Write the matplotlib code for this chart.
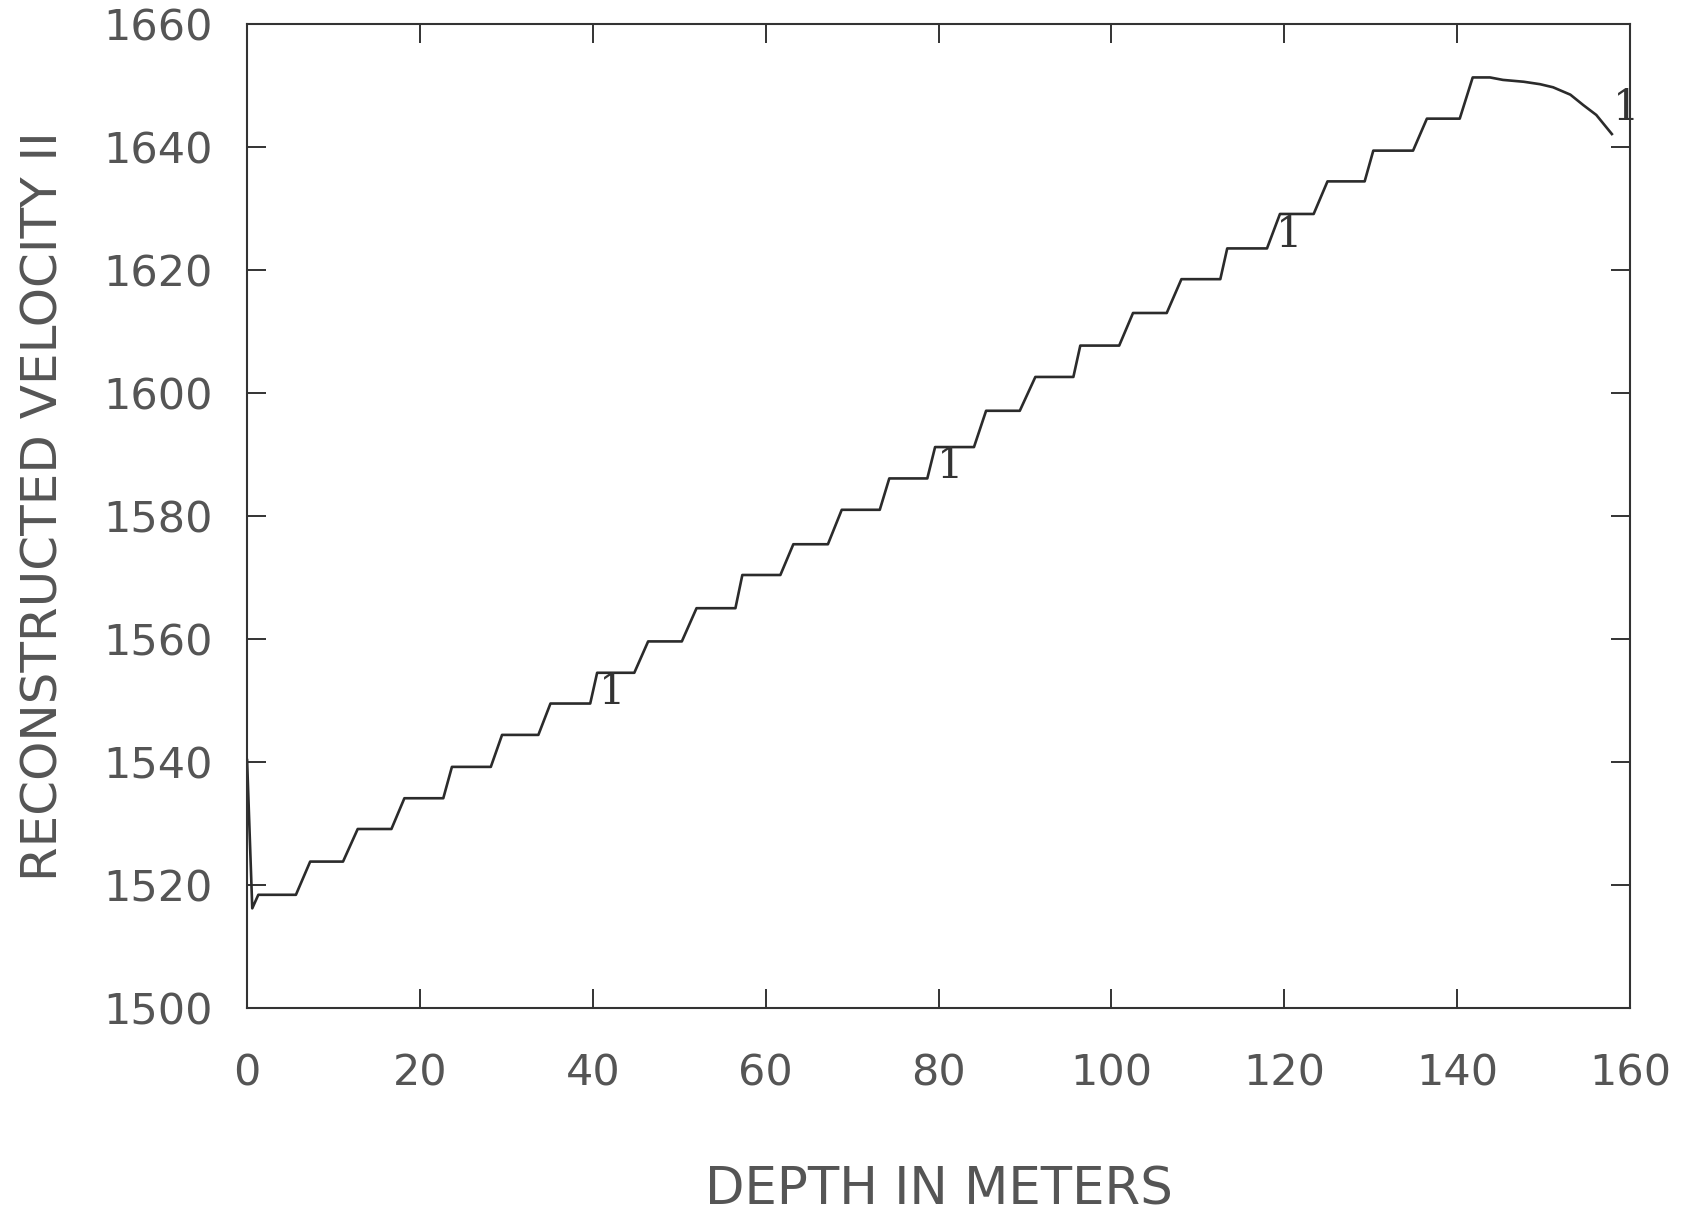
import matplotlib
matplotlib.use('Agg')
import matplotlib.pyplot as plt

# Datos (profundidad en m, velocidad en m/s)
spike_x = [0.0, 0.6, 1.3]
spike_y = [1540.3, 1516.2, 1518.4]

levels = [1518.4, 1523.8, 1529.1, 1534.1, 1539.2, 1544.4, 1549.5, 1554.5,
          1559.6, 1565.0, 1570.4, 1575.4, 1581.0, 1586.1, 1591.2, 1597.1,
          1602.6, 1607.7, 1613.0, 1618.5, 1623.5, 1629.1, 1634.4, 1639.4,
          1644.6, 1651.3]
flat_end = [5.65, 11.1, 16.7, 22.7, 28.2, 33.7, 39.7, 44.8, 50.3, 56.5,
            61.7, 67.2, 73.2, 78.7, 84.1, 89.4, 95.6, 100.9, 106.4, 112.6,
            118.0, 123.4, 129.3, 134.9, 140.3]
rise_top = [7.3, 12.8, 18.2, 23.7, 29.5, 35.1, 40.5, 46.4, 52.0, 57.3,
            63.2, 68.8, 74.3, 79.6, 85.5, 91.2, 96.4, 102.5, 108.1, 113.4,
            119.5, 125.0, 130.3, 136.5, 141.8]

tail_x = [143.8, 145.3, 147.7, 149.6, 151.1, 153.1, 154.6, 156.1, 157.9]
tail_y = [1651.3, 1650.9, 1650.6, 1650.2, 1649.7, 1648.5, 1646.8, 1645.2, 1642.1]

# posiciones de las etiquetas "1" de la curva
label_x = [42.2, 81.3, 120.6, 159.6]
label_y = [1549.4, 1586.1, 1623.8, 1644.4]

xticks = [0, 20, 40, 60, 80, 100, 120, 140, 160]
yticks = [1500, 1520, 1540, 1560, 1580, 1600, 1620, 1640, 1660]

# armar la escalera
x = list(spike_x)
y = list(spike_y)
for i in range(len(flat_end)):
    x += [flat_end[i], rise_top[i]]
    y += [levels[i], levels[i + 1]]
x += tail_x
y += tail_y

fig = plt.figure(figsize=(16.9, 12.15), dpi=100)
ax = fig.add_axes([0.1462, 0.1704, 0.8183, 0.8099])

ax.plot(x, y, color='#2b2b2b', linewidth=1.9)

for lx, ly in zip(label_x, label_y):
    ax.text(lx, ly, '1', family='DejaVu Serif', fontsize=30, color='#333333',
            ha='center', va='baseline', clip_on=False)

ax.set_xlim(0, 160)
ax.set_ylim(1500, 1660)
ax.set_xticks(xticks)
ax.set_yticks(yticks)
ax.tick_params(direction='in', length=14, width=1.4, top=True, right=True,
               labelsize=31, labelcolor='#555555', color='#333333')
ax.tick_params(axis='x', pad=32)
ax.tick_params(axis='y', pad=25)
for s in ax.spines.values():
    s.set_linewidth(1.5)
    s.set_color('#333333')

ax.set_xlabel('DEPTH IN METERS', fontsize=37, color='#555555')
ax.set_ylabel('RECONSTRUCTED VELOCITY II', fontsize=36, color='#555555')
ax.xaxis.set_label_coords(0.5, -0.186)
ax.xaxis.label.set_va('center')
ax.yaxis.set_label_coords(-0.1475, 0.51)
ax.yaxis.label.set_va('center')

plt.savefig('out.png', dpi=100)
